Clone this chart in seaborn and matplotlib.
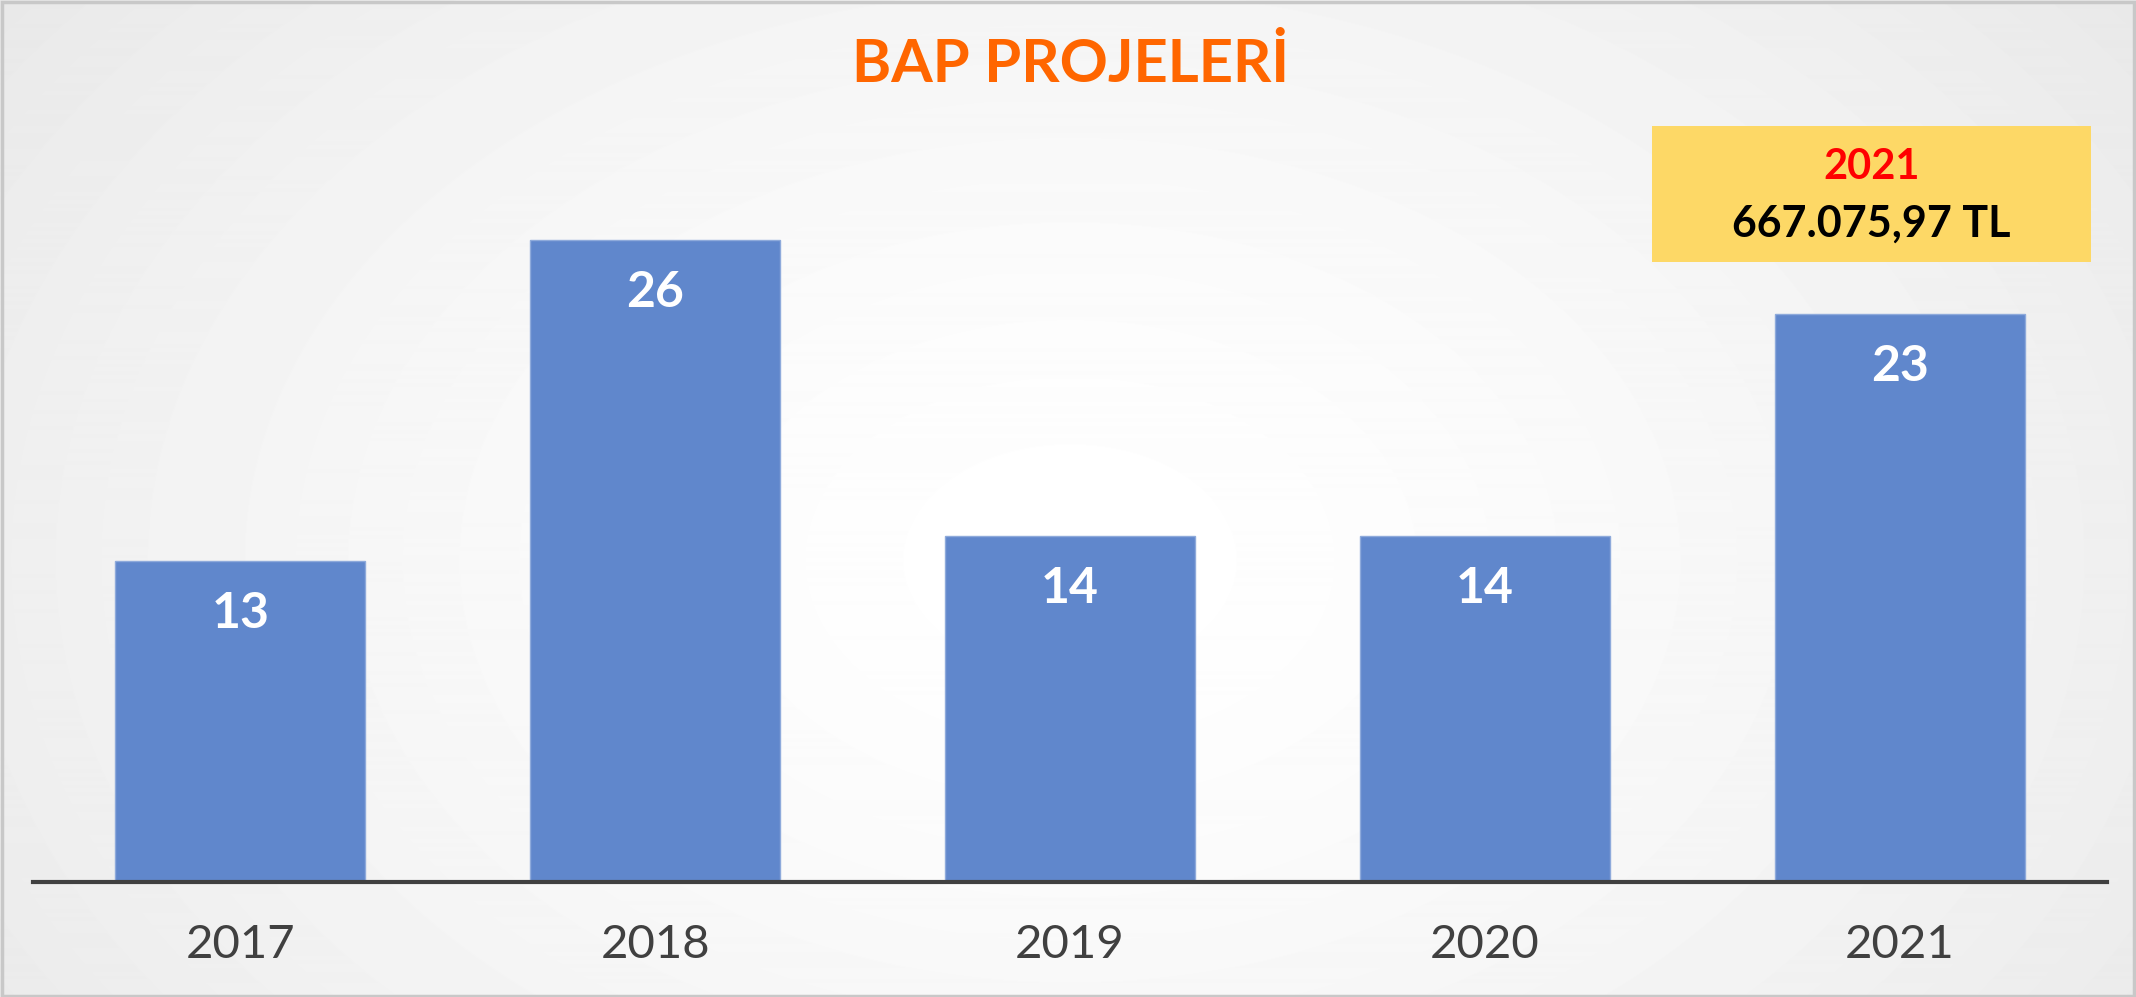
import numpy as np
import pandas as pd
import matplotlib
matplotlib.use('Agg')
import matplotlib.pyplot as plt
from matplotlib.patches import Rectangle
import seaborn as sns

# data
years = ['2017', '2018', '2019', '2020', '2021']
projects = [13, 26, 14, 14, 23]
box_year = '2021'
box_amount = '667.075,97 TL'
title = 'BAP PROJELERİ'

sns.set_style('white')
plt.rcParams['font.family'] = ['Lato', 'DejaVu Sans']

df = pd.DataFrame({'year': years, 'projects': projects})

fig = plt.figure(figsize=(21.36, 9.97), dpi=100)

# soft radial background
bg = fig.add_axes([0, 0, 1, 1], zorder=0)
yy, xx = np.mgrid[0:997, 0:2136]
r = np.sqrt(((xx - 1070) / 1300.0) ** 2 + ((yy - 560) / 900.0) ** 2)
shade = 1.0 - 0.085 * np.clip(r, 0, 1.2) ** 1.5
bg.imshow(shade, cmap='gray', vmin=0, vmax=1, aspect='auto', extent=[0, 1, 0, 1])
bg.set_axis_off()
bg.add_patch(Rectangle((0.001, 0.001), 0.998, 0.997, transform=bg.transAxes,
                       fill=False, edgecolor='#c8c8c8', linewidth=2.5))

ax = fig.add_axes([0.01545, 0.1155, 0.971, 0.7432], zorder=1)
ax.patch.set_alpha(0)
sns.barplot(data=df, x='year', y='projects', color='#6087cc', saturation=1,
            width=0.603, edgecolor='#8eaadb', linewidth=1.0, ax=ax)
ax.set_xlim(-0.5, 4.5)
ax.set_ylim(0, 30)

for i, v in enumerate(projects):
    ax.annotate(str(v), (i, v), xytext=(0, -38), textcoords='offset points',
                ha='center', va='center', color='white', fontsize=36,
                fontweight='bold')

sns.despine(ax=ax, left=True)
ax.spines['bottom'].set_color('#404040')
ax.spines['bottom'].set_linewidth(3)
ax.set_yticks([])
ax.set_xlabel('')
ax.set_ylabel('')
ax.tick_params(axis='x', length=0, pad=30, labelsize=34, labelcolor='#404040')

fig.text(0.501, 0.9358, title, ha='center', va='center', fontsize=43,
         fontweight='bold', color='#ff6600')

fig.patches.append(Rectangle((0.7734, 0.7372), 0.2055, 0.1364,
                             transform=fig.transFigure, facecolor='#fdd866',
                             edgecolor='none', zorder=2))
fig.text(0.876, 0.832, box_year, ha='center', va='center', fontsize=30,
         fontweight='bold', color='#ff0000', zorder=3)
fig.text(0.876, 0.7753, box_amount, ha='center', va='center', fontsize=31,
         fontweight='bold', color='black', zorder=3)

fig.savefig('out.png', dpi=100)
